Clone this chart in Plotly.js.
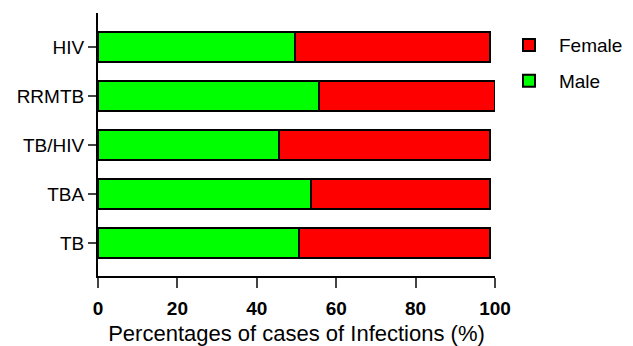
<!DOCTYPE html>
<html><head><meta charset="utf-8">
<script src="https://cdn.plot.ly/plotly-3.0.1.min.js"></script>
<style>html,body{margin:0;padding:0;background:#fff}#chart{width:633px;height:346px}</style>
</head><body><div id="chart"></div>
<script>
const categories = ["TB", "TBA", "TB/HIV", "RRMTB", "HIV"];
const maleValues = [50.6, 53.6, 45.5, 55.6, 49.6];
const femaleValues = [48.2, 45.2, 53.3, 44.3, 49.2];
const xTickValues = [0, 20, 40, 60, 80, 100];
const font = "Liberation Sans, Arial, sans-serif";

const line = {color: "#000", width: 2};
const traces = [
  {type: "bar", orientation: "h", name: "Male", y: categories, x: maleValues,
   marker: {color: "#00ff00", line: line}, width: 0.62, legendgroup: "m", legendrank: 2},
  {type: "bar", orientation: "h", name: "Female", y: categories, x: femaleValues,
   marker: {color: "#ff0000", line: line}, width: 0.62, legendgroup: "f", legendrank: 1}
];
const layout = {
  width: 633, height: 346,
  margin: {l: 98, r: 138, t: 13, b: 70, autoexpand: false},
  barmode: "stack",
  paper_bgcolor: "#fff", plot_bgcolor: "#fff",
  font: {family: font, color: "#000"},
  showlegend: true,
  legend: {x: 1.01, y: 0.95, xanchor: "left", yanchor: "top", traceorder: "grouped",
           itemwidth: 50, tracegroupgap: 8, font: {size: 19, family: font}},
  xaxis: {range: [0, 100], tickvals: xTickValues, ticks: "outside", ticklen: 10, tickwidth: 2,
          ticklabelstandoff: 4,
          showline: true, linecolor: "#000", linewidth: 2, showgrid: false, zeroline: false,
          tickfont: {size: 19, family: font, weight: "bold"},
          title: {text: "Percentages of cases of Infections (%)", font: {size: 22, family: font}, standoff: 16}},
  yaxis: {type: "category", categoryorder: "array", categoryarray: categories, range: [-0.67, 4.69],
          ticks: "outside", ticklen: 8, tickwidth: 2, showline: true, linecolor: "#000", linewidth: 2,
          showgrid: false, zeroline: false, tickfont: {size: 19, family: font}}
};
Plotly.newPlot("chart", traces, layout, {displayModeBar: false, staticPlot: true});
</script></body></html>
